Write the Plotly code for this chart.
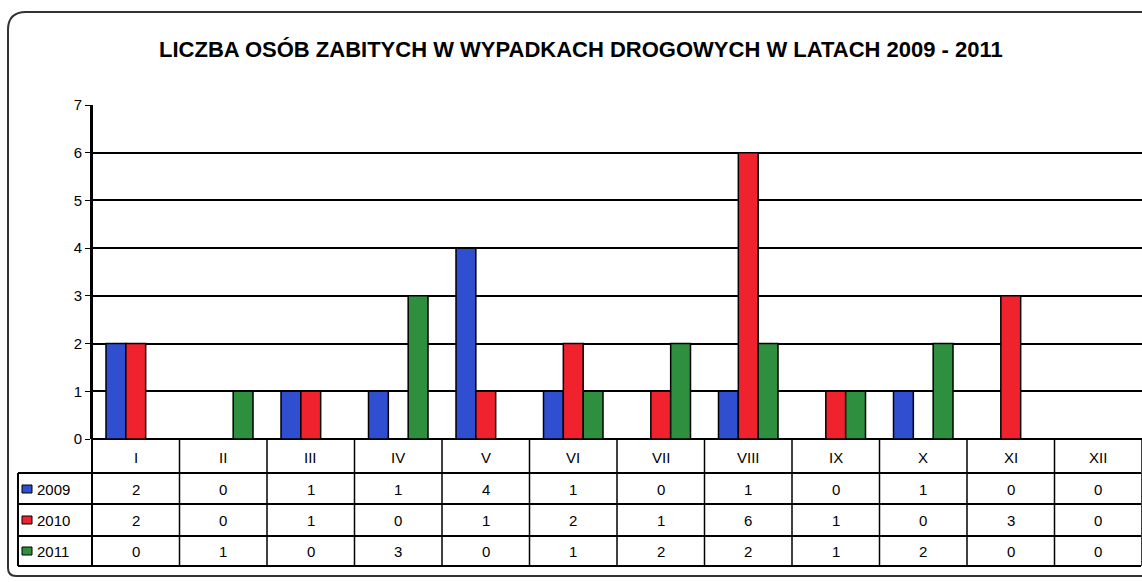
import plotly.graph_objects as go

months = ["I", "II", "III", "IV", "V", "VI", "VII", "VIII", "IX", "X", "XI", "XII"]
years = ["2009", "2010", "2011"]
v2009 = [2, 0, 1, 1, 4, 1, 0, 1, 0, 1, 0, 0]
v2010 = [2, 0, 1, 0, 1, 2, 1, 6, 1, 0, 3, 0]
v2011 = [0, 1, 0, 3, 0, 1, 2, 2, 1, 2, 0, 0]
series = [v2009, v2010, v2011]
colors = ["#2f4fd0", "#f0222e", "#2e8f3e"]
title = "LICZBA OSÓB ZABITYCH W WYPADKACH DROGOWYCH W LATACH 2009 - 2011"

W, H = 1142, 582
L, R, T, B = 92, 0, 105, 143
PW, PH = W - L - R, H - T - B


def px(x):
    return (x - L) / PW


def py(y):
    return (H - B - y) / PH


fig = go.Figure()
for name, vals, col in zip(years, series, colors):
    fig.add_trace(go.Bar(x=months, y=vals, name=name, marker_color=col,
                         marker_line_color="black", marker_line_width=1.5))

shapes = []
annotations = []
font = dict(family="Liberation Sans, Arial, sans-serif", size=15, color="black")

# table geometry (pixels)
row_lines = [473, 504, 536, 566]
row_centers = [489, 520, 551]
header_center = 457

for rl in row_lines:
    shapes.append(dict(type="line", xref="paper", yref="paper", x0=px(18), x1=px(1141),
                       y0=py(rl), y1=py(rl), line=dict(color="black", width=2)))
shapes.append(dict(type="line", xref="paper", yref="paper", x0=px(18), x1=px(18),
                   y0=py(row_lines[0]), y1=py(row_lines[-1]), line=dict(color="black", width=2)))
shapes.append(dict(type="line", xref="paper", yref="paper", x0=0, x1=0,
                   y0=1, y1=py(row_lines[-1]), line=dict(color="black", width=2)))
for i in range(1, len(months) + 1):
    xp = i / len(months)
    shapes.append(dict(type="line", xref="paper", yref="paper", x0=xp, x1=xp,
                       y0=0, y1=py(row_lines[-1]), line=dict(color="black", width=1.5)))

for i, m in enumerate(months):
    annotations.append(dict(x=m, y=py(header_center), xref="x", yref="paper", text=m,
                            showarrow=False, font=font, xanchor="center", yanchor="middle"))
    for r, vals in enumerate(series):
        annotations.append(dict(x=m, y=py(row_centers[r]), xref="x", yref="paper",
                                text=str(vals[i]), showarrow=False, font=font,
                                xanchor="center", yanchor="middle"))

for r, (name, col) in enumerate(zip(years, colors)):
    yc = row_centers[r]
    shapes.append(dict(type="rect", xref="paper", yref="paper", x0=px(22), x1=px(32),
                       y0=py(yc - 4), y1=py(yc + 4), fillcolor=col,
                       line=dict(color="black", width=1)))
    annotations.append(dict(x=px(35), y=py(yc), xref="paper", yref="paper", text=name,
                            showarrow=False, xanchor="left", yanchor="middle", font=font))

r_ = 18
frame = (f"M {px(1150)},{py(12)} L {px(8 + r_)},{py(12)} "
         f"Q {px(8)},{py(12)} {px(8)},{py(12 + r_)} "
         f"L {px(8)},{py(576 - 8)} Q {px(8)},{py(576)} {px(16)},{py(576)} "
         f"L {px(1150)},{py(576)}")
shapes.append(dict(type="path", xref="paper", yref="paper", path=frame,
                   line=dict(color="#333333", width=2)))

annotations.append(dict(x=px(581), y=py(49), xref="paper", yref="paper", text=title,
                        showarrow=False, xanchor="center", yanchor="middle",
                        font=dict(family="Liberation Sans, Arial, sans-serif", size=22,
                                  color="black", weight="bold")))

fig.update_layout(
    width=W, height=H,
    margin=dict(l=L, r=R, t=T, b=B),
    paper_bgcolor="white", plot_bgcolor="white",
    barmode="group", bargap=0.32, bargroupgap=0,
    showlegend=False,
    shapes=shapes, annotations=annotations,
    font=font,
)
fig.update_xaxes(type="category", categoryorder="array", categoryarray=months,
                 showticklabels=False, showgrid=False, zeroline=False,
                 showline=False, ticks="")
fig.update_yaxes(range=[0, 7], dtick=1, showgrid=True, gridcolor="black", gridwidth=2,
                 showline=True, linecolor="black", linewidth=2, ticks="outside",
                 ticklen=5, tickcolor="black", zeroline=True, zerolinecolor="black",
                 zerolinewidth=2, tickfont=dict(size=15, color="black"))
fig.write_html("out.html", config={"displayModeBar": False},
               post_script="document.body.style.margin='0';")
